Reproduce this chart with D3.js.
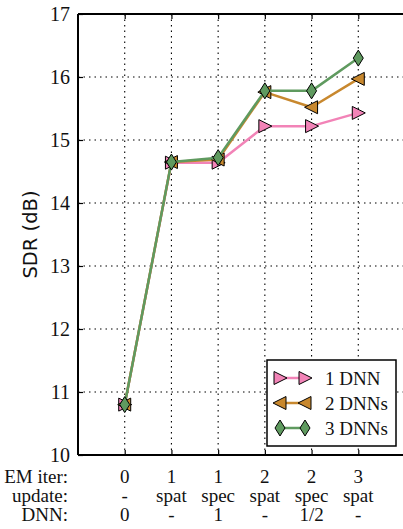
<!DOCTYPE html>
<html><head><meta charset="utf-8">
<script src="https://cdn.jsdelivr.net/npm/d3@7"></script>
<style>body{margin:0;background:#fff}svg{display:block}
.serif{font-family:"Liberation Serif",serif}
</style>
</head><body>
<svg id="c" width="403" height="529"></svg>
<script>
const steps = [0,1,2,3,4,5];
const emIter = ["0","1","1","2","2","3"];
const updateRow = ["-","spat","spec","spat","spec","spat"];
const dnnRow = ["0","-","1","-","1/2","-"];
const rowLabels = ["EM iter:","update:","DNN:"];
const yTicks = [10,11,12,13,14,15,16,17];
const seriesNames = ["1 DNN","2 DNNs","3 DNNs"];
const dnn1 = [10.8,14.64,14.64,15.22,15.22,15.43];
const dnn2 = [10.8,14.65,14.69,15.76,15.52,15.97];
const dnn3 = [10.8,14.65,14.72,15.78,15.78,16.30];
const colors = ["#f283b7","#c8882e","#5f9a5f"];
const shapes = ["M-6,-6.5L7,0L-6,6.5Z","M6,-6.5L-7,0L6,6.5Z","M0,-8L5,0L0,8L-5,0Z"];

const svg = d3.select("#c");
const x = d3.scaleLinear().domain([-1,6]).range([78,405]);
const y = d3.scaleLinear().domain([10,17]).range([455,14]);
const fs = 19;

// grid
const g = svg.append("g").attr("stroke","#000").attr("stroke-width",1.1).attr("stroke-dasharray","1.5,4");
g.selectAll(".vx").data(steps).join("line").attr("x1",d=>x(d)).attr("x2",d=>x(d)).attr("y1",y(17)).attr("y2",y(10));
g.selectAll(".hy").data(yTicks.filter(t=>t>10&&t<17)).join("line").attr("y1",d=>y(d)).attr("y2",d=>y(d)).attr("x1",x(-1)).attr("x2",x(6));

// series
const data = [dnn1,dnn2,dnn3];
data.forEach((vals,si)=>{
  const line = d3.line().x((d,i)=>x(steps[i])).y(d=>y(d));
  svg.append("path").datum(vals).attr("d",line).attr("fill","none").attr("stroke",colors[si]).attr("stroke-width",2.5).attr("stroke-linejoin","round");
  svg.append("g").selectAll("path").data(vals).join("path")
    .attr("d",shapes[si]).attr("transform",(d,i)=>`translate(${x(steps[i])},${y(d)})`)
    .attr("fill",colors[si]).attr("stroke","#000").attr("stroke-width",1);
});

// axes
const ya = svg.append("g").attr("transform",`translate(${x(-1)},0)`).call(d3.axisLeft(y).tickValues(yTicks).tickSize(-5).tickPadding(8).tickFormat(d3.format("d")));
const xb = svg.append("g").attr("transform",`translate(0,${y(10)})`).call(d3.axisBottom(x).tickValues(steps).tickSize(-5).tickFormat(""));
const xt = svg.append("g").attr("transform",`translate(0,${y(17)})`).call(d3.axisTop(x).tickValues(steps).tickSize(-5).tickFormat(""));
[ya,xb,xt].forEach(a=>{
  a.attr("font-family",null).attr("font-size",null);
  a.select(".domain").attr("stroke","#000").attr("stroke-width",2);
  a.selectAll(".tick line").attr("stroke","#000").attr("stroke-width",1.2);
  a.selectAll("text").attr("class","serif").attr("font-size",fs+1).attr("fill","#111");
});
ya.select(".domain").attr("d",`M0,${y(10)}V${y(17)}`);
xb.select(".domain").attr("d",`M${x(-1)},0H${x(6)}`);
xt.select(".domain").attr("d",`M${x(-1)},0H${x(6)}`);

// y label
svg.append("text").attr("transform",`translate(37,${(y(10)+y(17))/2}) rotate(-90)`)
  .attr("text-anchor","middle").attr("font-family","DejaVu Sans").attr("font-size",19.5).attr("fill","#111").text("SDR (dB)");

// bottom table
const rows = [emIter,updateRow,dnnRow];
const baselines = [483,502,521];
rows.forEach((r,ri)=>{
  svg.append("text").attr("x",68).attr("y",baselines[ri]).attr("text-anchor","end")
    .attr("class","serif").attr("font-size",fs).attr("fill","#111").text(rowLabels[ri]);
  svg.append("g").selectAll("text").data(r).join("text")
    .attr("x",(d,i)=>x(steps[i])).attr("y",baselines[ri]).attr("text-anchor","middle")
    .attr("class","serif").attr("font-size",fs).attr("fill","#111").text(d=>d);
});

// legend
const lg = svg.append("g");
lg.append("rect").attr("x",267).attr("y",360).attr("width",129).attr("height",86).attr("fill","#fff").attr("stroke","#000").attr("stroke-width",1.5);
const rowsY = [378,403,428];
seriesNames.forEach((n,i)=>{
  lg.append("line").attr("x1",280).attr("x2",305).attr("y1",rowsY[i]).attr("y2",rowsY[i]).attr("stroke",colors[i]).attr("stroke-width",2.5);
  [280,305].forEach(px=>lg.append("path").attr("d",shapes[i]).attr("transform",`translate(${px},${rowsY[i]})`).attr("fill",colors[i]).attr("stroke","#000").attr("stroke-width",1));
  lg.append("text").attr("x",325).attr("y",rowsY[i]).attr("dy","0.35em").attr("class","serif").attr("font-size",fs).attr("fill","#111").text(n);
});
</script>
</body></html>
